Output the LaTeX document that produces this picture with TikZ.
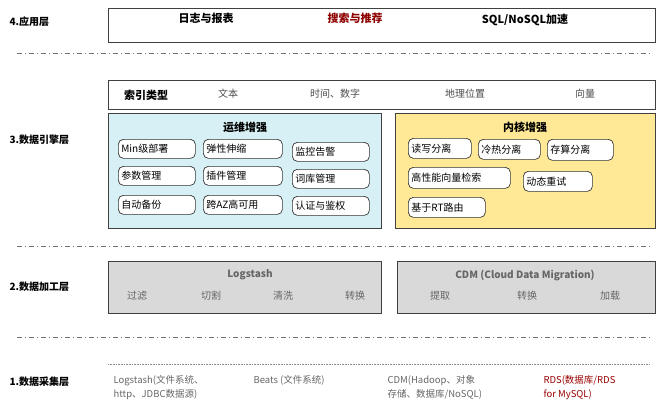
\documentclass[tikz,border=0pt]{standalone}
\usepackage{fontspec}
\setmainfont{Noto Sans CJK SC}
\definecolor{kery}{RGB}{255,233,150}
\definecolor{opsb}{RGB}{214,240,245}
\begin{document}
\begin{tikzpicture}[x=1pt,y=-1pt,
  box/.style={draw=black!75,line width=0.8pt,inner sep=0},
  pill/.style={draw=black!80,fill=white,rounded corners=5pt,line width=0.7pt,inner xsep=3pt,inner ysep=0,text width=#1,align=left,font=\fontsize{10}{11}\selectfont,anchor=north west},
  lay/.style={font=\bfseries\fontsize{10}{11}\selectfont,anchor=west},
  sep/.style={draw=black!55,line width=0.8pt,dash pattern=on 5pt off 3pt on 1pt off 3pt},
  gt/.style={text=black!60,font=\fontsize{10}{11}\selectfont},
  tt/.style={font=\bfseries\fontsize{11}{12}\selectfont}]
\useasboundingbox (0,0) rectangle (660,416);
% layer 4
\node[box,minimum width=547,minimum height=34,anchor=north west] (app) at (108,8) {};
\node[lay] (l4) at (6,22) {4.应用层};
\node[tt] (a1) at (206,18) {日志与报表};
\node[tt,text=red!55!black] (a2) at (355,18) {搜索与推荐};
\node[tt] (a3) at (525,20) {SQL/NoSQL加速};
\coordinate (s1a) at (17,53); \coordinate (s1b) at (651,53);
\draw[sep] (s1a) -- (s1b);
% layer 3
\node[box,minimum width=547,minimum height=29,anchor=north west] (idx) at (108,80) {};
\node[tt] (i0) at (146,95) {索引类型};
\node[gt,text=black!70] (i1) at (228,94) {文本};
\node[gt,text=black!70] (i2) at (335,94) {时间、数字};
\node[gt,text=black!70] (i3) at (465,94) {地理位置};
\node[gt,text=black!70] (i4) at (585,94) {向量};
\node[lay] (l3) at (6,140) {3.数据引擎层};
\node[box,fill=opsb,minimum width=273,minimum height=115,anchor=north west] (ops) at (108,113) {};
\node[box,fill=kery,minimum width=260,minimum height=115,anchor=north west] (ker) at (395,113) {};
\node[tt] (opst) at (245,127) {运维增强};
\node[tt] (kert) at (525,127) {内核增强};
\node[pill=71pt,minimum height=19] (p1) at (118,139) {Min级部署};
\node[pill=73pt,minimum height=19] (p2) at (203,139) {弹性伸缩};
\node[pill=71pt,minimum height=19] (p3) at (292,142) {监控告警};
\node[pill=71pt,minimum height=19] (p4) at (118,166) {参数管理};
\node[pill=73pt,minimum height=19] (p5) at (203,166) {插件管理};
\node[pill=71pt,minimum height=19] (p6) at (292,169) {词库管理};
\node[pill=71pt,minimum height=19] (p7) at (118,195) {自动备份};
\node[pill=73pt,minimum height=19] (p8) at (203,195) {跨AZ高可用};
\node[pill=71pt,minimum height=19] (p9) at (292,196) {认证与鉴权};
\node[pill=57pt,minimum height=20] (k1) at (408,138) {读写分离};
\node[pill=56pt,minimum height=20] (k2) at (478,139) {冷热分离};
\node[pill=60pt,minimum height=21] (k3) at (547,139) {存算分离};
\node[pill=96pt,minimum height=21] (k4) at (408,167) {高性能向量检索};
\node[pill=63pt,minimum height=20] (k5) at (523,171) {动态重试};
\node[pill=71pt,minimum height=20] (k6) at (408,197) {基于RT路由};
\coordinate (s2a) at (17,246); \coordinate (s2b) at (651,246);
\draw[sep] (s2a) -- (s2b);
% layer 2
\node[lay] (l2) at (6,287) {2.数据加工层};
\node[box,fill=black!15,minimum width=273,minimum height=52,anchor=north west] (lg) at (108,261) {};
\node[box,fill=black!15,minimum width=258,minimum height=52,anchor=north west] (cdm) at (397,261) {};
\node[gt,font=\bfseries\fontsize{10}{11}\selectfont] (lgt) at (250,275) {Logstash};
\node[gt,font=\bfseries\fontsize{10}{11}\selectfont] (cdt) at (525,275) {CDM (Cloud Data Migration)};
\node[gt] (g1) at (137,296) {过滤};
\node[gt] (g2) at (211,296) {切割};
\node[gt] (g3) at (283,296) {清洗};
\node[gt] (g4) at (355,296) {转换};
\node[gt] (c1) at (440,296) {提取};
\node[gt] (c2) at (527,296) {转换};
\node[gt] (c3) at (610,296) {加载};
\coordinate (s3a) at (17,337); \coordinate (s3b) at (651,337);
\draw[sep] (s3a) -- (s3b);
% layer 1
\coordinate (d1) at (108,364); \coordinate (d2) at (650,364);
\draw[black!45,densely dotted,line width=0.6pt] (d1) -- (d2);
\node[lay] (l1) at (6,382) {1.数据采集层};
\node[gt,anchor=north west,align=left,font=\fontsize{9.5}{14}\selectfont] (b1) at (110,372) {Logstash(文件系统、\\http、JDBC数据源)};
\node[gt,anchor=north west,font=\fontsize{9.5}{14}\selectfont] (b2) at (250,372) {Beats (文件系统)};
\node[gt,anchor=north west,align=left,font=\fontsize{9.5}{14}\selectfont] (b3) at (384,372) {CDM(Hadoop、对象\\存储、数据库/NoSQL)};
\node[anchor=north west,align=left,text=red!60!black,font=\fontsize{9.5}{14}\selectfont] (b4) at (540,372) {RDS(数据库/RDS\\for MySQL)};
\end{tikzpicture}
\end{document}
